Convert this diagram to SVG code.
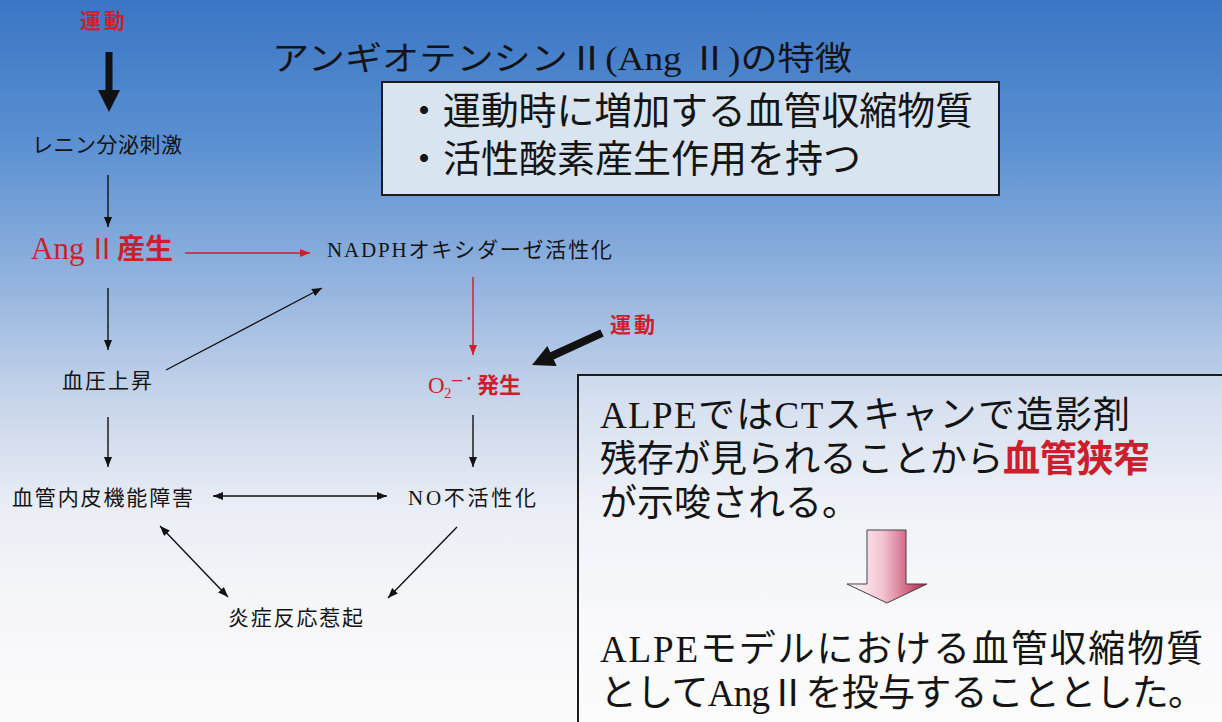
<svg xmlns="http://www.w3.org/2000/svg" width="1222" height="722" viewBox="0 0 1222 722">
<defs>
  <linearGradient id="bg" x1="0" y1="0" x2="0" y2="1">
    <stop offset="0" stop-color="#3a76c4"/>
    <stop offset="0.2" stop-color="#5b90d2"/>
    <stop offset="0.4" stop-color="#95b5df"/>
    <stop offset="0.55" stop-color="#c6d4ea"/>
    <stop offset="0.7" stop-color="#e9edf5"/>
    <stop offset="0.85" stop-color="#f7f7fa"/>
    <stop offset="1" stop-color="#fbfbfb"/>
  </linearGradient>
  <linearGradient id="pink" x1="0" y1="0" x2="1" y2="0">
    <stop offset="0" stop-color="#ffffff"/>
    <stop offset="0.45" stop-color="#f2c2d0"/>
    <stop offset="1" stop-color="#b51f48"/>
  </linearGradient>
  <marker id="ah" viewBox="0 0 10 8" markerUnits="userSpaceOnUse" markerWidth="10" markerHeight="8" refX="10" refY="4" orient="auto-start-reverse">
    <path d="M0,0 L10,4 L0,8 z" fill="#111"/>
  </marker>
  <marker id="ahr" viewBox="0 0 10 8" markerUnits="userSpaceOnUse" markerWidth="10" markerHeight="8" refX="10" refY="4" orient="auto-start-reverse">
    <path d="M0,0 L10,4 L0,8 z" fill="#cc1f2e"/>
  </marker>
  <style>
    .jp { font-family: "Noto Sans CJK JP", "Noto Sans", sans-serif; }
    .ser { font-family: "Liberation Serif", "Noto Sans CJK JP", serif; }
    .lab { font-size: 21px; fill: #141414; }
    .red { fill: #cc1f2e; }
    .b { font-weight: bold; }
    .ln { stroke: #111; stroke-width: 1.4; fill: none; marker-end: url(#ah); }
    .lnr { stroke: #cc1f2e; stroke-width: 1.4; fill: none; marker-end: url(#ahr); }
    .dbl { marker-start: url(#ah); }
    .box { stroke: #1c1c1c; stroke-width: 2; }
  </style>
</defs>

<rect x="0" y="0" width="1222" height="722" fill="url(#bg)"/>

<!-- Title -->
<g id="title">
  <text class="jp" x="272" y="70" font-size="33" fill="#141414" textLength="580" lengthAdjust="spacingAndGlyphs">アンギオテンシン<tspan class="ser">Ⅱ(Ang Ⅱ)</tspan>の特徴</text>
</g>

<!-- Feature box -->
<g id="features">
  <rect class="box" x="382" y="82" width="617" height="113" fill="#d8e4ef"/>
  <text class="jp" x="405" y="124" font-size="38" fill="#141414" textLength="568">・運動時に増加する血管収縮物質</text>
  <text class="jp" x="405" y="172" font-size="38" fill="#141414">・活性酸素産生作用を持つ</text>
</g>

<!-- Connectors -->
<g id="connectors">
  <polygon points="105.5,52 112.5,52 112.5,90 120,90 109,112 98,90 105.5,90" fill="#111"/>
  <line class="ln" x1="108" y1="175" x2="108" y2="227"/>
  <line class="lnr" x1="185" y1="253" x2="310" y2="253"/>
  <line class="ln" x1="108" y1="288" x2="108" y2="350"/>
  <line class="ln" x1="166" y1="370" x2="322" y2="288"/>
  <line class="lnr" x1="473" y1="277" x2="473" y2="355"/>
  <polygon points="603.7,336.6 553.7,359.5 556.6,365.9 532,365 547.4,345.9 550.3,352.2 600.3,329.4" fill="#111"/>
  <line class="ln" x1="108" y1="417" x2="108" y2="467"/>
  <line class="ln" x1="473" y1="415" x2="473" y2="467"/>
  <line class="ln dbl" x1="213" y1="496" x2="387" y2="496"/>
  <line class="ln dbl" x1="160" y1="526" x2="228" y2="597"/>
  <line class="ln" x1="457" y1="527" x2="388" y2="598"/>
</g>

<!-- Nodes -->
<g id="undo1">
  <text class="jp red b" x="80" y="28" font-size="21" textLength="45">運動</text>
</g>
<g id="renin">
  <text class="jp lab" x="32" y="152" textLength="150">レニン分泌刺激</text>
</g>
<g id="angii">
  <text class="red" y="259"><tspan class="ser" x="31" font-size="31">Ang</tspan><tspan class="ser" x="88" font-size="28">Ⅱ</tspan><tspan class="jp b" x="117" font-size="28">産生</tspan></text>
</g>
<g id="nadph">
  <text class="jp lab" x="327" y="257" font-size="22" textLength="285"><tspan class="ser">NADPH</tspan>オキシダーゼ活性化</text>
</g>
<g id="bp">
  <text class="jp lab" x="62" y="388" textLength="90">血圧上昇</text>
</g>
<g id="undo2">
  <text class="jp red b" x="610" y="332" font-size="21" textLength="45">運動</text>
</g>
<g id="o2">
  <text class="red"><tspan class="ser" x="428" y="393" font-size="23">O</tspan><tspan class="ser" x="444" y="398" font-size="15">2</tspan><tspan class="ser" x="451" y="388" font-size="22">−</tspan><tspan class="ser b" x="466" y="385" font-size="18">·</tspan><tspan class="jp b" x="477" y="393" font-size="22">発生</tspan></text>
</g>
<g id="endo">
  <text class="jp lab" x="12" y="505" textLength="181">血管内皮機能障害</text>
</g>
<g id="no">
  <text class="jp lab" x="408" y="505" textLength="128"><tspan class="ser">NO</tspan>不活性化</text>
</g>
<g id="inflam">
  <text class="jp lab" x="228" y="625" textLength="135">炎症反応惹起</text>
</g>

<!-- Conclusion box -->
<g id="conclusion">
  <rect class="box" x="578" y="375" width="650" height="360" fill="#ffffff" fill-opacity="0.25"/>
  <text class="jp" x="600" y="428" font-size="37" fill="#141414" textLength="530"><tspan class="ser">ALPE</tspan>では<tspan class="ser">CT</tspan>スキャンで造影剤</text>
  <text class="jp" x="600" y="472" font-size="37" fill="#141414" textLength="550">残存が見られることから<tspan class="red b">血管狭窄</tspan></text>
  <text class="jp" x="600" y="516" font-size="37" fill="#141414">が示唆される。</text>
  <polygon points="867,530 906,530 906,584 927,584 887,603 847,584 867,584" fill="url(#pink)" stroke="#444" stroke-width="1"/>
  <text class="jp" x="600" y="662" font-size="37" fill="#141414" textLength="603"><tspan class="ser">ALPE</tspan>モデルにおける血管収縮物質</text>
  <text class="jp" x="600" y="706" font-size="37" fill="#141414" textLength="605">として<tspan class="ser">Ang</tspan><tspan class="ser">Ⅱ</tspan>を投与することとした。</text>
</g>
</svg>
